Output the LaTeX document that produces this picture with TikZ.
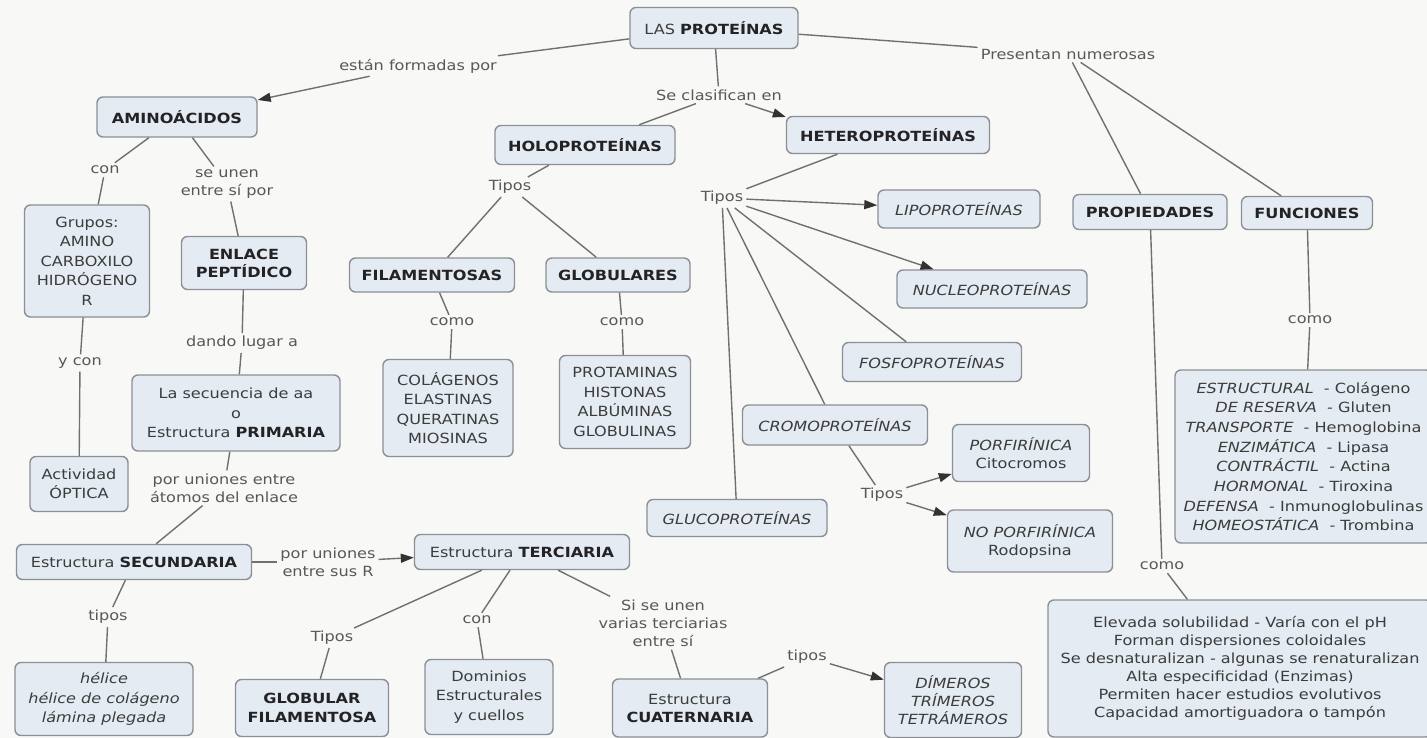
\documentclass[tikz,border=0pt]{standalone}
\usepackage{fontspec}
\setmainfont{DejaVu Sans}[FakeStretch=1.15]
\usetikzlibrary{arrows.meta}
\definecolor{bgcol}{RGB}{248,248,247}
\definecolor{boxfill}{RGB}{229,235,243}
\definecolor{boxline}{RGB}{140,143,148}
\definecolor{connline}{RGB}{112,112,112}
\definecolor{tipcol}{RGB}{50,50,50}
\definecolor{boxtext}{RGB}{60,60,60}
\definecolor{boldtext}{RGB}{35,35,38}
\definecolor{lbltext}{RGB}{88,88,88}
% bold concept words, a little darker than the rest of the box text
\newcommand\bt[1]{\textbf{\color{boldtext}#1}}

\begin{document}
\begin{tikzpicture}[x=1pt,y=-1pt,
  every node/.style={font=\fontsize{14}{18}\selectfont},
  box/.style={draw=boxline, fill=boxfill, rounded corners=6pt, line width=1.4pt,
    align=center, inner sep=2pt, text=boxtext},
  bx/.style 2 args={box, minimum width=#1pt, minimum height=#2pt},
  lbl/.style={align=center, inner sep=3pt, text=lbltext},
  conn/.style={draw=connline, line width=1.4pt},
  arr/.style={conn, -{Triangle[length=13pt,width=9pt,color=tipcol]}},
  wide/.style={font=\fontsize{14}{19.5}\selectfont}]

\fill[bgcol] (0,0) rectangle (1427,738);
\useasboundingbox (0,0) rectangle (1427,738);

% ---- top level
\node[bx={168}{41}] (prot) at (714,28) {LAS \bt{PROTEÍNAS}};
\node[lbl] (estan) at (418,66) {están formadas por};
\node[lbl] (clasif) at (719,95) {Se clasifican en};
\node[lbl] (present) at (1068,54) {Presentan numerosas};

\node[bx={160}{40}] (amino) at (177,117) {\bt{AMINOÁCIDOS}};
\node[bx={180}{39}] (holo) at (585,145) {\bt{HOLOPROTEÍNAS}};
\node[bx={203}{37}] (hetero) at (888,135) {\bt{HETEROPROTEÍNAS}};
\node[bx={154}{35}] (propied) at (1150,212) {\bt{PROPIEDADES}};
\node[bx={131}{33}] (func) at (1307,213) {\bt{FUNCIONES}};

% ---- aminoacids branch
\node[lbl] (con1) at (105,170) {con};
\node[lbl] (seunen) at (227,184) {se unen\\entre sí por};
\node[bx={125}{112}, wide] (grupos) at (87,261) {Grupos:\\AMINO\\CARBOXILO\\HIDRÓGENO\\R};
\node[bx={125}{53}] (enlace) at (244,263) {\bt{ENLACE}\\\bt{PEPTÍDICO}};
\node[lbl] (ycon) at (80,363) {y con};
\node[bx={98}{55}, wide] (activ) at (79,484) {Actividad\\ÓPTICA};
\node[lbl] (dando) at (242,343) {dando lugar a};
\node[bx={208}{76}, wide] (secuencia) at (236,413) {La secuencia de aa\\o\\Estructura \bt{PRIMARIA}};
\node[lbl] (porun) at (224,488) {por uniones entre\\átomos del enlace};
\node[bx={235}{35}] (secund) at (134,562) {Estructura \bt{SECUNDARIA}};
\node[lbl] (porun2) at (328,562) {por uniones\\entre sus R};
\node[bx={215}{35}] (terc) at (522,552) {Estructura \bt{TERCIARIA}};
\node[lbl] (tipos1) at (108,617) {tipos};
\node[bx={178}{73}, wide] (helice) at (104,699) {\textit{hélice}\\\textit{hélice de colágeno}\\\textit{lámina plegada}};
\node[lbl] (tipos2) at (332,638) {Tipos};
\node[bx={153}{57}, wide] (globfil) at (312,708) {\bt{GLOBULAR}\\\bt{FILAMENTOSA}};
\node[lbl] (con2) at (477,620) {con};
\node[bx={128}{75}, wide] (dominios) at (489,697) {Dominios\\Estructurales\\y cuellos};
\node[lbl] (siunen) at (663,623) {Si se unen\\varias terciarias\\entre sí};
\node[bx={155}{58}] (cuat) at (690,708) {Estructura\\\bt{CUATERNARIA}};
\node[lbl] (tipos3) at (807,657) {tipos};
\node[bx={137}{75}] (dimeros) at (953,700) {\textit{DÍMEROS}\\\textit{TRÍMEROS}\\\textit{TETRÁMEROS}};

% ---- holoproteins branch
\node[lbl] (tipos6) at (510,187) {Tipos};
\node[bx={165}{34}] (filam) at (432,275) {\bt{FILAMENTOSAS}};
\node[bx={144}{34}] (globul) at (618,275) {\bt{GLOBULARES}};
\node[lbl] (como1) at (452,322) {como};
\node[lbl] (como2) at (622,322) {como};
\node[bx={130}{97}, wide] (colag) at (448,408) {COLÁGENOS\\ELASTINAS\\QUERATINAS\\MIOSINAS};
\node[bx={131}{93}, wide] (protam) at (625,402) {PROTAMINAS\\HISTONAS\\ALBÚMINAS\\GLOBULINAS};

% ---- heteroproteins branch
\node[lbl] (tipos4) at (722,198) {Tipos};
\node[bx={162}{38}] (lipo) at (959,209) {\textit{LIPOPROTEÍNAS}};
\node[bx={190}{38}] (nucleo) at (992,289) {\textit{NUCLEOPROTEÍNAS}};
\node[bx={179}{39}] (fosfo) at (932,362) {\textit{FOSFOPROTEÍNAS}};
\node[bx={185}{40}] (cromo) at (835,425) {\textit{CROMOPROTEÍNAS}};
\node[bx={180}{37}] (gluco) at (737,518) {\textit{GLUCOPROTEÍNAS}};
\node[lbl] (tipos5) at (882,495) {Tipos};
\node[bx={137}{57}] (porfir) at (1021,453) {\textit{PORFIRÍNICA}\\Citocromos};
\node[bx={165}{62}] (noporf) at (1030,541) {\textit{NO PORFIRÍNICA}\\Rodopsina};

% ---- properties and functions
\node[lbl] (como3) at (1162,566) {como};
\node[bx={384}{137}] (proplist) at (1240,668.5) {Elevada solubilidad - Varía con el pH\\Forman dispersiones coloidales\\Se desnaturalizan - algunas se renaturalizan\\Alta especificidad (Enzimas)\\Permiten hacer estudios evolutivos\\Capacidad amortiguadora o tampón};
\node[lbl] (como4) at (1310,320) {como};
\node[bx={257}{173}, font=\fontsize{14}{19.7}\selectfont] (funclist) at (1303.5,456.5) {\textit{ESTRUCTURAL} \ - Colágeno\\\textit{DE RESERVA} \ - Gluten\\\textit{TRANSPORTE} \ - Hemoglobina\\\textit{ENZIMÁTICA} \ - Lipasa\\\textit{CONTRÁCTIL} \ - Actina\\\textit{HORMONAL} \ - Tiroxina\\\textit{DEFENSA} \ - Inmunoglobulinas\\\textit{HOMEOSTÁTICA} \ - Trombina};

% ---- connectors
\draw[conn] (prot) -- (estan);
\draw[arr] (estan) -- (amino);
\draw[conn] (prot) -- (clasif);
\draw[conn] (clasif) -- (holo);
\draw[arr] (clasif) -- (hetero.170);
\draw[conn] (prot) -- (present);
\draw[conn] (present) -- (propied);
\draw[conn] (present) -- (func);

\draw[conn] (amino) -- (con1);
\draw[conn] (con1) -- (grupos);
\draw[conn] (amino) -- (seunen);
\draw[conn] (seunen) -- (enlace);
\draw[conn] (grupos) -- (ycon);
\draw[conn] (ycon) -- (activ);
\draw[conn] (enlace) -- (dando);
\draw[conn] (dando) -- (secuencia);
\draw[conn] (secuencia) -- (porun);
\draw[conn] (porun) -- (secund);
\draw[conn] (secund) -- (porun2);
\draw[arr] (porun2) -- (terc);
\draw[conn] (secund) -- (tipos1);
\draw[conn] (tipos1) -- (helice);
\draw[conn] (terc) -- (tipos2);
\draw[conn] (tipos2) -- (globfil);
\draw[conn] (terc) -- (con2);
\draw[conn] (con2) -- (dominios);
\draw[conn] (terc) -- (siunen);
\draw[conn] (siunen) -- (cuat);
\draw[conn] (cuat) -- (tipos3);
\draw[arr] (tipos3) -- (dimeros);

\draw[conn] (holo) -- (tipos6);
\draw[conn] (tipos6) -- (filam);
\draw[conn] (tipos6) -- (globul);
\draw[conn] (filam) -- (como1);
\draw[conn] (como1) -- (colag);
\draw[conn] (globul) -- (como2);
\draw[conn] (como2) -- (protam);

\draw[conn] (hetero) -- (tipos4);
\draw[arr] (tipos4) -- (lipo);
\draw[arr] (tipos4) -- (nucleo);
\draw[conn] (tipos4) -- (fosfo);
\draw[conn] (tipos4) -- (cromo);
\draw[conn] (tipos4) -- (gluco);
\draw[conn] (cromo) -- (tipos5);
\draw[arr] (tipos5) -- (porfir);
\draw[arr] (tipos5) -- (noporf);

\draw[conn] (propied) -- (como3);
\draw[conn] (como3) -- (proplist);
\draw[conn] (func) -- (como4);
\draw[conn] (como4) -- (funclist);
\end{tikzpicture}
\end{document}
